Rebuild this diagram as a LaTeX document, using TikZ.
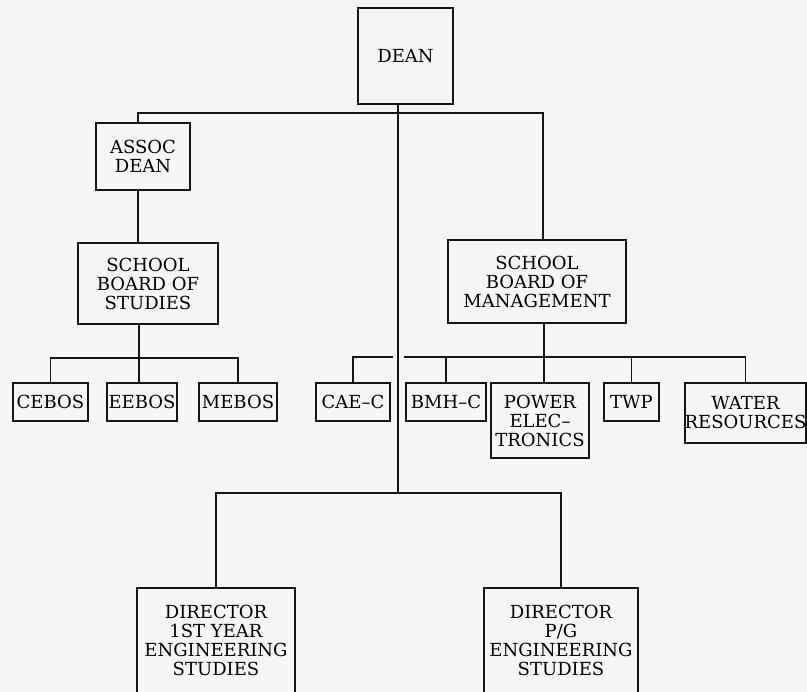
\documentclass[tikz,border=0pt]{standalone}
\usepackage{fontspec}
\setmainfont{DejaVu Serif}
\usetikzlibrary{calc}

\tikzset{
	orgbox/.style={draw=black!92, line width=1.8pt, inner sep=0pt, align=center,
		font=\fontsize{18}{19}\selectfont, text=black},
	link/.style={draw=black!92, line width=1.4pt}
}

\begin{document}
\begin{tikzpicture}[x=1pt, y=-1pt]
	\useasboundingbox (0,0) rectangle (807,692);
	\fill[gray!8] (0,0) rectangle (807,692);

	\node[orgbox, minimum width=95, minimum height=96] (dean) at (405.5,56) {DEAN};
	\node[orgbox, minimum width=94, minimum height=67] (assoc) at (143,156.5) {ASSOC\\DEAN};
	\node[orgbox, minimum width=140, minimum height=81] (sbos) at (148,283.5) {SCHOOL\\BOARD OF\\STUDIES};
	\node[orgbox, minimum width=178, minimum height=83] (sbom) at (537,281.5) {SCHOOL\\BOARD OF\\MANAGEMENT};

	\node[orgbox, minimum width=75, minimum height=38] (cebos) at (50.5,402) {CEBOS};
	\node[orgbox, minimum width=70, minimum height=38] (eebos) at (142,402) {EEBOS};
	\node[orgbox, minimum width=78, minimum height=38] (mebos) at (238,402) {MEBOS};
	\node[orgbox, minimum width=74, minimum height=38] (caec) at (353,402) {CAE\textendash C};
	\node[orgbox, minimum width=80, minimum height=38] (bmhc) at (446,402) {BMH\textendash C};
	\node[orgbox, minimum width=98, minimum height=75] (power) at (540,420.5) {POWER\\ELEC\textendash\\TRONICS};
	\node[orgbox, minimum width=55, minimum height=38] (twp) at (631.5,402) {TWP};
	\node[orgbox, minimum width=121, minimum height=60] (water) at (745.5,413) {WATER\\RESOURCES};

	\node[orgbox, minimum width=158, minimum height=105] (dirone) at (216,640.5) {DIRECTOR\\1ST YEAR\\ENGINEERING\\STUDIES};
	\node[orgbox, minimum width=154, minimum height=105] (dirpg) at (561,640.5) {DIRECTOR\\P/G\\ENGINEERING\\STUDIES};

	\coordinate (jtop) at (398,113);
	\coordinate (jl) at (138,113);
	\coordinate (jr) at (543,113);
	\coordinate (jsb) at (139,358);
	\coordinate (jsm) at (544,357);
	\coordinate (hopl) at (393,357);
	\coordinate (hopr) at (404,357);
	\coordinate (jdir) at (398,493);

	\draw[link] (dean.south -| jtop) -- (jdir);
	\draw[link] (assoc.north -| jl) -- (jl) -- (jr) -- (sbom.north -| jr);
	\draw[link] (assoc.south -| jl) -- (sbos.north -| jl);

	\draw[link] (sbos.south -| jsb) -- (eebos.north -| jsb);
	\draw[link] (cebos.north) |- (jsb) -| (mebos.north);

	\draw[link] (sbom.south -| jsm) -- (power.north -| jsm);
	\draw[link] (caec.north) |- (hopl);
	\draw[link] (hopr) -| (water.north);
	\draw[link] (bmhc.north) -- (bmhc.north |- hopr);
	\draw[link] (twp.north) -- (twp.north |- hopr);

	\draw[link] (dirone.north) |- (jdir) -| (dirpg.north);
\end{tikzpicture}
\end{document}
